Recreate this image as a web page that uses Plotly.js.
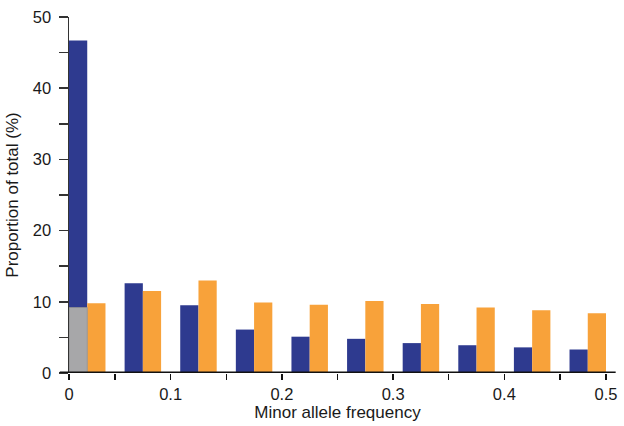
<!DOCTYPE html>
<html>
<head>
<meta charset="utf-8">
<script src="https://cdn.plot.ly/plotly-3.0.1.min.js"></script>
<style>
  html, body { margin: 0; padding: 0; background: #fff; }
  #chart { width: 624px; height: 426px; }
</style>
</head>
<body>
<div id="chart"></div>
<script>
// Bin centres of minor allele frequency (bins of width 0.05)
var binCenters = [0.025, 0.075, 0.125, 0.175, 0.225, 0.275, 0.325, 0.375, 0.425, 0.475];
// Blue series (proportion of total, %)
var blueValues = [46.7, 12.6, 9.5, 6.1, 5.1, 4.8, 4.2, 3.9, 3.6, 3.3];
// Orange series (proportion of total, %)
var orangeValues = [9.8, 11.5, 13.0, 9.9, 9.6, 10.1, 9.7, 9.2, 8.8, 8.4];
// Grey overlay in the first bin
var greyCenters = [0.025];
var greyValues = [9.2];
// Axis tick labels
var xTickVals = [0.05, 0.1, 0.15, 0.2, 0.25, 0.3, 0.35, 0.4, 0.45];
var xTickText = ['', '0.1', '', '0.2', '', '0.3', '', '0.4', ''];
var yTickVals = [0, 5, 10, 15, 20, 25, 30, 35, 40, 45, 50];
var yTickText = ['0', '', '10', '', '20', '', '30', '', '40', '', '50'];

var barW = 0.0164;
var xMin = binCenters[0] - barW;
var xMax = binCenters[binCenters.length - 1] + barW;

var traces = [
  { type: 'bar', x: binCenters, y: blueValues, width: barW, offset: -barW,
    marker: { color: '#2E3A8F', line: { width: 0 } }, hoverinfo: 'x+y' },
  { type: 'bar', x: binCenters, y: orangeValues, width: barW, offset: 0,
    marker: { color: '#F8A23A', line: { width: 0 } }, hoverinfo: 'x+y' },
  { type: 'bar', x: greyCenters, y: greyValues, width: barW, offset: -barW,
    marker: { color: '#A7A7A9', line: { color: '#8E8E90', width: 0.8 } }, hoverinfo: 'x+y' }
];

var font = "Liberation Sans, Arial, Helvetica, sans-serif";

var layout = {
  width: 624, height: 426,
  margin: { l: 69, r: 18, t: 17, b: 53, pad: 0 },
  paper_bgcolor: '#ffffff', plot_bgcolor: '#ffffff',
  barmode: 'overlay',
  showlegend: false,
  font: { family: font, size: 16.5, color: '#1a1a1a' },
  xaxis: {
    range: [xMin, xMax],
    tickmode: 'array',
    tickvals: [xMin].concat(xTickVals, [xMax]),
    ticktext: ['0'].concat(xTickText, ['0.5']),
    ticks: 'outside', ticklen: 6, tickwidth: 1.5, tickcolor: '#111111',
    showline: false, showgrid: false, zeroline: false,
    tickfont: { family: font, size: 16.5, color: '#1a1a1a' },
    ticklabelstandoff: 0,
    title: { text: 'Minor allele frequency', font: { family: font, size: 17, color: '#1a1a1a' }, standoff: 3 }
  },
  yaxis: {
    range: [0, 50],
    tickmode: 'array',
    tickvals: yTickVals,
    ticktext: yTickText,
    ticks: 'outside', ticklen: 9, tickwidth: 1.5, tickcolor: '#333333',
    showline: true, linecolor: '#333333', linewidth: 1.5,
    showgrid: false, zeroline: false,
    tickfont: { family: font, size: 16.5, color: '#1a1a1a' },
    ticklabelstandoff: 4,
    title: { text: 'Proportion of total (%)', font: { family: font, size: 17, color: '#1a1a1a' }, standoff: 10 }
  },
  shapes: [
    { type: 'line', xref: 'paper', yref: 'y', x0: -0.017, x1: 1.018, y0: 0, y1: 0,
      line: { color: '#111111', width: 3 }, layer: 'above' }
  ]
};

Plotly.newPlot('chart', traces, layout, { displayModeBar: false, staticPlot: true });
</script>
</body>
</html>
